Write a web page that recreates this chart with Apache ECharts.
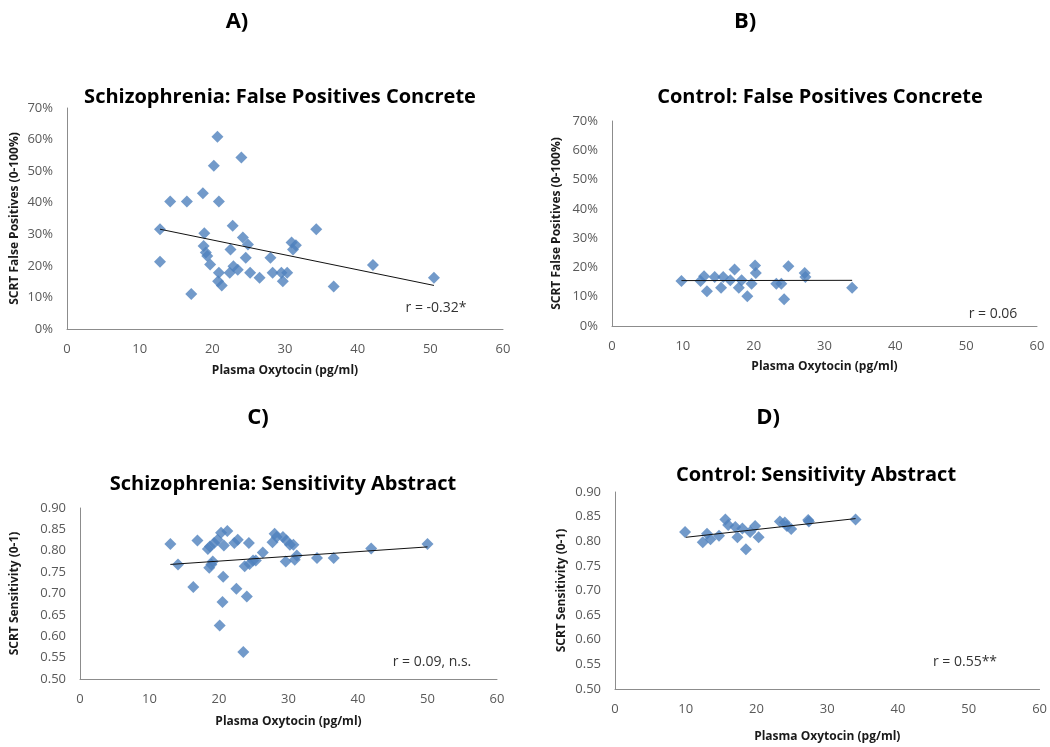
<!DOCTYPE html>
<html>
<head>
<meta charset="utf-8">
<script src="https://cdn.jsdelivr.net/npm/echarts@6/dist/echarts.min.js"></script>
<style>
html,body{margin:0;padding:0;background:#fff;}
#chart{width:1050px;height:747px;}
</style>
</head>
<body>
<div id="chart"></div>
<script>
// ---- Data ----
// Panel A: Schizophrenia, False Positives Concrete (x = plasma oxytocin pg/ml, y = %)
const schizFPx = [12.8,12.8,14.2,16.5,17.1,18.7,18.9,18.8,19.1,19.3,19.7,20.2,20.7,20.9,20.9,20.8,21.3,22.5,22.8,22.4,22.9,23.5,24.0,24.2,24.9,24.6,25.2,26.5,28.0,28.3,29.5,29.7,30.3,30.9,31.1,31.5,34.3,36.7,42.1,50.5];
const schizFPy = [31.6,21.3,40.4,40.4,11.1,43.0,30.3,26.3,24.2,23.1,20.4,51.7,60.9,40.4,17.8,15.1,13.8,25.2,32.7,17.8,19.9,18.8,54.3,29.0,26.8,22.6,17.8,16.2,22.6,17.8,17.8,15.1,17.8,27.4,25.2,26.5,31.6,13.5,20.3,16.2];
const schizFPtrend = [[12.8,31.6],[50.5,13.8]];

// Panel B: Control, False Positives Concrete
const ctrlFPx = [9.8,12.5,13.0,13.4,14.5,15.4,15.7,16.7,17.3,17.9,18.3,19.1,19.7,20.2,20.3,23.2,23.9,24.3,24.9,27.2,27.3,33.9];
const ctrlFPy = [15.4,15.4,17.0,11.9,16.7,13.1,16.7,15.6,19.3,13.1,15.6,10.2,14.4,20.7,18.1,14.4,14.4,9.1,20.4,18.1,16.7,13.1];
const ctrlFPtrend = [[9.8,15.5],[33.9,15.6]];

// Panel C: Schizophrenia, Sensitivity Abstract
const schizSensx = [13.0,14.1,16.3,16.9,18.4,18.7,18.6,19.1,18.9,19.3,19.8,20.1,20.3,20.5,20.6,20.7,21.2,22.2,22.5,22.7,23.5,23.7,24.0,24.3,24.4,24.9,25.3,26.3,27.7,28.0,28.3,29.2,29.7,29.6,30.2,30.7,30.9,31.2,34.1,36.5,41.9,50.0];
const schizSensy = [0.816,0.768,0.715,0.824,0.804,0.810,0.760,0.775,0.768,0.818,0.826,0.625,0.842,0.680,0.739,0.812,0.846,0.818,0.711,0.826,0.563,0.764,0.693,0.818,0.769,0.777,0.777,0.796,0.820,0.840,0.832,0.832,0.824,0.775,0.814,0.814,0.779,0.789,0.783,0.783,0.805,0.816];
const schizSenstrend = [[13.0,0.768],[50.0,0.809]];

// Panel D: Control, Sensitivity Abstract
const ctrlSensx = [9.9,12.4,13.0,13.5,14.7,15.6,16.0,17.0,17.3,18.0,18.5,19.1,19.8,20.3,23.3,24.0,24.3,24.9,27.3,27.4,34.0];
const ctrlSensy = [0.819,0.798,0.815,0.804,0.811,0.844,0.833,0.829,0.808,0.826,0.784,0.819,0.831,0.808,0.840,0.838,0.831,0.825,0.843,0.840,0.844];
const ctrlSenstrend = [[10.0,0.808],[34.0,0.846]];

const xTicks = [0,10,20,30,40,50,60];
const pctTicks = [0,10,20,30,40,50,60,70];
const sensTicks = [0.50,0.55,0.60,0.65,0.70,0.75,0.80,0.85,0.90];

const panelTitles = ['Schizophrenia: False Positives Concrete','Control: False Positives Concrete','Schizophrenia: Sensitivity Abstract','Control: Sensitivity Abstract'];
const panelLetters = ['A)','B)','C)','D)'];
const rLabels = ['r = -0.32*','r = 0.06','r = 0.09, n.s.','r = 0.55**'];
const xName = 'Plasma Oxytocin (pg/ml)';
const yNames = ['SCRT False Positives (0-100%)','SCRT False Positives (0-100%)','SCRT Sensitivity (0-1)','SCRT Sensitivity (0-1)'];

// ---- Build ----
const FONT = '"Open Sans", Lato, sans-serif';
const zip = (xs, ys) => xs.map((x, i) => [x, ys[i]]);

const grids = [
  {left: 67, top: 108, width: 436, height: 221},
  {left: 612, top: 121, width: 425, height: 205},
  {left: 80, top: 508, width: 417, height: 171},
  {left: 615, top: 492, width: 430, height: 197}
];
const yNameGaps = [46, 49, 59, 47];
const xNameGaps = [36, 35, 37, 42];

const axisLine = {show: true, lineStyle: {color: '#8c8c8c', width: 1}};
const tickLabel = {color: '#595959', fontFamily: FONT, fontSize: 13};
const nameStyle = {fontFamily: FONT, fontWeight: 'bold', fontSize: 12, color: '#1a1a1a'};

const xAxes = grids.map((g, i) => ({
  type: 'value', gridIndex: i, min: xTicks[0], max: xTicks[xTicks.length-1], interval: 10,
  axisLine: axisLine, axisTick: {show: false}, splitLine: {show: false},
  axisLabel: Object.assign({margin: 14}, tickLabel),
  name: xName, nameLocation: 'middle', nameGap: xNameGaps[i],
  nameTextStyle: nameStyle
}));
const yAxes = grids.map((g, i) => {
  const pct = i < 2;
  const ticks = pct ? pctTicks : sensTicks;
  return {
    type: 'value', gridIndex: i, min: ticks[0], max: ticks[ticks.length-1], interval: pct ? 10 : 0.05,
    axisLine: axisLine, axisTick: {show: false}, splitLine: {show: false},
    axisLabel: Object.assign({margin: 14, formatter: pct ? (v => v + '%') : (v => v.toFixed(2))}, tickLabel),
    name: yNames[i], nameLocation: 'middle', nameGap: yNameGaps[i], nameRotate: 90,
    nameTextStyle: nameStyle
  };
});

const scatterData = [zip(schizFPx, schizFPy), zip(ctrlFPx, ctrlFPy), zip(schizSensx, schizSensy), zip(ctrlSensx, ctrlSensy)];
const trends = [schizFPtrend, ctrlFPtrend, schizSenstrend, ctrlSenstrend];

const series = [];
scatterData.forEach((d, i) => {
  series.push({
    type: 'scatter', xAxisIndex: i, yAxisIndex: i, data: d,
    symbol: 'diamond', symbolSize: 12,
    itemStyle: {color: '#4F81BD'}, z: 3
  });
  series.push({
    type: 'line', xAxisIndex: i, yAxisIndex: i, data: trends[i],
    symbol: 'none', lineStyle: {color: '#111', width: 1}, z: 4, silent: true
  });
});

const titlePos = [[280, 97], [820, 97], [283, 484], [816, 475]];
const letterPos = [[237, 22], [745, 22], [258, 418], [768, 418]];
const rPos = [[436, 308], [993, 314], [432, 662], [965, 662]];

const graphics = [];
panelTitles.forEach((t, i) => {
  graphics.push({type: 'text', x: titlePos[i][0], y: titlePos[i][1],
    style: {text: t, fontFamily: FONT, fontWeight: 'bold', fontSize: 20, fill: '#000', align: 'center', verticalAlign: 'middle'}});
  graphics.push({type: 'text', x: letterPos[i][0], y: letterPos[i][1],
    style: {text: panelLetters[i], fontFamily: FONT, fontWeight: 'bold', fontSize: 22, fill: '#000', align: 'center', verticalAlign: 'middle'}});
  graphics.push({type: 'text', x: rPos[i][0], y: rPos[i][1],
    style: {text: rLabels[i], fontFamily: FONT, fontSize: 14, fill: '#333', align: 'center', verticalAlign: 'middle'}});
});

const chart = echarts.init(document.getElementById('chart'), null, {renderer: 'canvas'});
chart.setOption({
  backgroundColor: '#fff',
  animation: false,
  grid: grids,
  xAxis: xAxes,
  yAxis: yAxes,
  series: series,
  graphic: graphics
});
</script>
</body>
</html>
